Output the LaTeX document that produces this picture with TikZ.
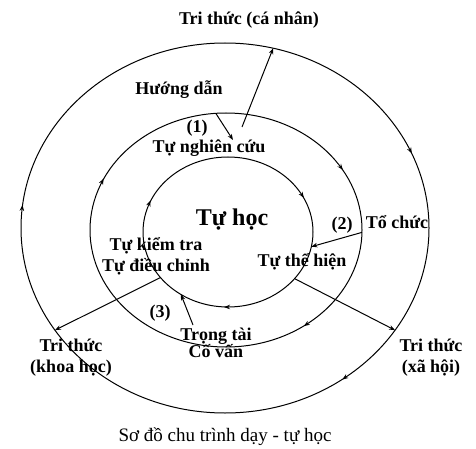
\documentclass[tikz,border=0pt]{standalone}
\usepackage{fontspec}
\setmainfont{Liberation Serif}
\usetikzlibrary{shapes.geometric,arrows.meta,decorations.markings}
\begin{document}
\begin{tikzpicture}[x=1pt,y=-1pt,
  ring/.style={line width=1pt},
  ringtip/.style={postaction={decorate,decoration={markings,
      mark=at position #1 with {\arrow{Stealth[reversed,length=6pt,width=4.5pt]}}}}},
  conn/.style={line width=1pt,-{Stealth[length=6pt,width=4.5pt]}},
  lab/.style={font=\bfseries\fontsize{18}{21}\selectfont,inner sep=0pt,align=center},
  hole/.style={ellipse,inner sep=0pt,outer sep=0pt}]
\useasboundingbox (0,0) rectangle (476,449);
% ellipses (anchors)
\node[hole,minimum width=408pt,minimum height=370pt] (outer) at (225,228) {};
\node[hole,minimum width=272pt,minimum height=234pt] (middle) at (226,230) {};
\node[hole,minimum width=170pt,minimum height=150pt] (inner) at (228,232) {};
% drawn rings with direction tips
\draw[ring,ringtip=0.068,ringtip=0.486,ringtip=0.856] (225,228) ellipse [x radius=204pt,y radius=185pt];
\draw[ring,ringtip=0.088,ringtip=0.44,ringtip=0.86] (226,230) ellipse [x radius=136pt,y radius=117pt];
\draw[ring,ringtip=0.083,ringtip=0.447,ringtip=0.754] (228,232) ellipse [x radius=85pt,y radius=75pt];
% texts
\node[lab] (tc) at (249,20) {Tri thức (cá nhân)};
\node[lab] (hd) at (179,90) {Hướng dẫn};
\node[lab] (n1) at (197,128) {(1)};
\node[lab] (nc) at (209,148) {Tự nghiên cứu};
\node[lab,font=\bfseries\fontsize{24}{28}\selectfont] (th) at (232,220) {Tự học};
\node[lab] (n2) at (342,225) {(2)};
\node[lab] (toc) at (397,222) {Tổ chức};
\node[lab] (kt) at (156,256) {Tự kiểm tra\\Tự điều chỉnh};
\node[lab] (the) at (302,262) {Tự thể hiện};
\node[lab] (n3) at (160,313) {(3)};
\node[lab] (tt) at (216,343) {Trọng tài\\[-4pt]Cố vấn};
\node[lab] (kh) at (71,358) {Tri thức\\(khoa học)};
\node[lab] (xh) at (431,358) {Tri thức\\(xã hội)};
\node[font=\fontsize{19}{22}\selectfont,inner sep=0pt] (cap) at (225,437) {Sơ đồ chu trình dạy - tự học};
% connectors
\coordinate (s1) at (242,127);
\coordinate (e2) at (233,140);
\coordinate (s6) at (193,325);
\draw[conn] (s1) -- (outer.75.07);
\draw[conn] (middle.95.4) -- (e2);
\draw[conn] (middle.-1.25) -- (inner.-10);
\draw[conn] (inner.-35.05) -- (outer.-31.25);
\draw[conn] (inner.214.9) -- (outer.211.2);
\draw[conn] (s6) -- (inner.233.9);
\end{tikzpicture}
\end{document}
